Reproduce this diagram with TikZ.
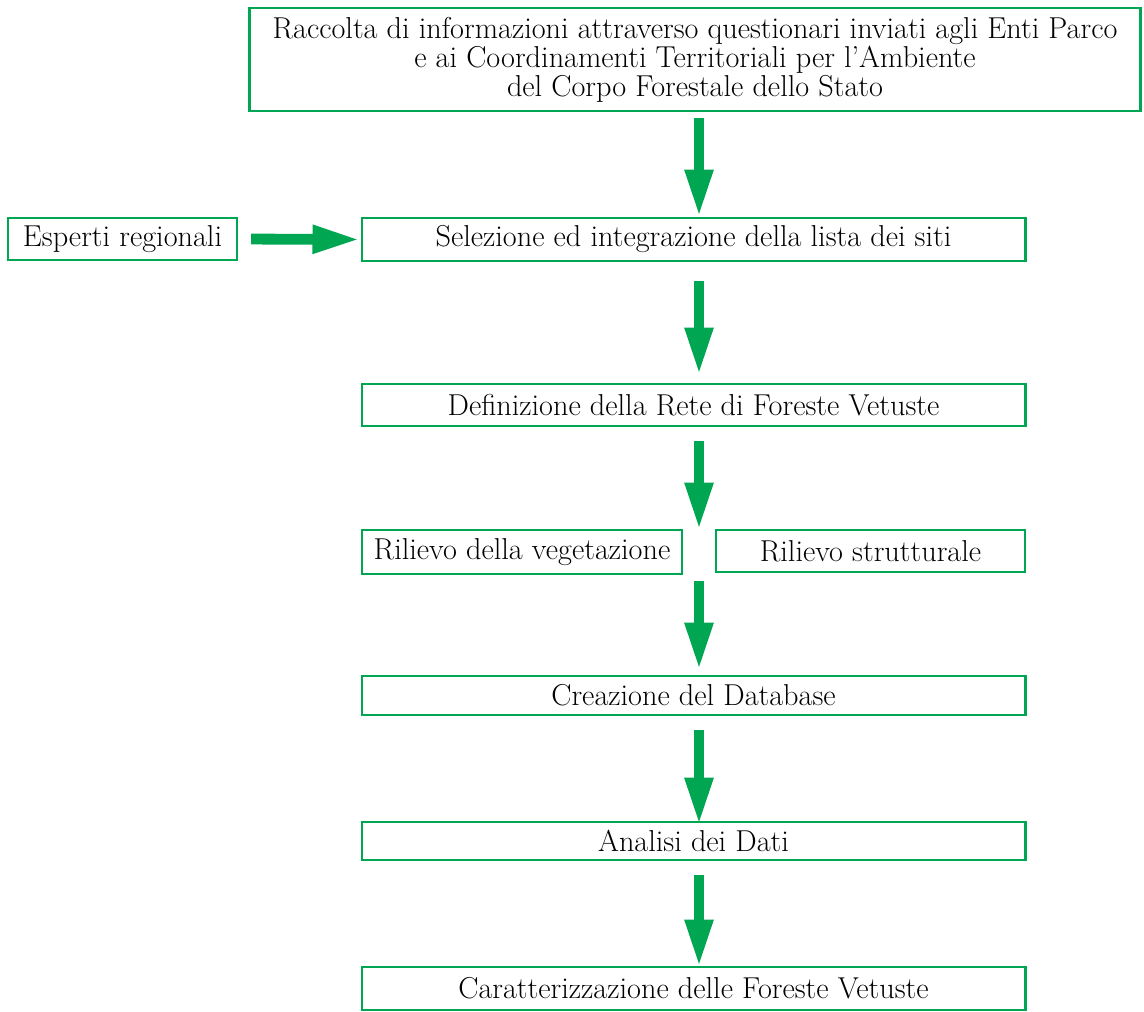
\documentclass[tikz,border=0pt]{standalone}
\usetikzlibrary{arrows.meta}
\definecolor{boxgreen}{RGB}{0,166,81}

\begin{document}
\begin{tikzpicture}[x=0.025cm, y=-0.025cm,
  box/.style={draw=boxgreen, line width=2pt, inner sep=0pt, align=center,
    font=\fontsize{21.5}{20.6}\selectfont},
  flow/.style={boxgreen, line width=0.27cm, -{Triangle[width=0.65cm,length=1.2cm]}}]
\useasboundingbox (0,0) rectangle (1144,1012);
\coordinate (ax) at (699,0);
% boxes
\node[box, minimum width=22.25cm, minimum height=2.575cm] (info) at (695,59.5)
  {Raccolta di informazioni attraverso questionari inviati agli Enti Parco\\
   e ai Coordinamenti Territoriali per l'Ambiente\\
   del Corpo Forestale dello Stato};
\node[box, minimum width=5.725cm, minimum height=1.05cm] (esperti) at (122.5,239) {Esperti regionali};
\node[box, minimum width=16.575cm, minimum height=1.075cm] (sel) at (693.5,239.5) {Selezione ed integrazione della lista dei siti};
\node[box, minimum width=16.575cm, minimum height=1.05cm] (rete) at (693.5,405) {Definizione della Rete di Foreste Vetuste};
\node[box, minimum width=8cm, minimum height=1.1cm] (veg) at (522,552) {Rilievo della vegetazione};
\node[box, minimum width=7.725cm, minimum height=1.05cm] (strut) at (870.5,551) {Rilievo strutturale};
\node[box, minimum width=16.575cm, minimum height=0.975cm] (db) at (693.5,695.5) {Creazione del Database};
\node[box, minimum width=16.575cm, minimum height=0.95cm] (dati) at (693.5,841) {Analisi dei Dati};
\node[box, minimum width=16.575cm, minimum height=1.075cm] (car) at (693.5,988.5) {Caratterizzazione delle Foreste Vetuste};
% arrows
\draw[flow, shorten <=9pt, shorten >=0pt] (esperti.east) -- (sel.west);
\foreach \a/\b/\s/\e in {info/sel/4.3/-0.7, sel/rete/13.5/5, rete/veg/10/-1.4,
                         veg/db/4.3/2.8, db/dati/10/-3.6, dati/car/10/-1.4}
  \draw[flow, shorten <=\s pt, shorten >=\e pt] (\a.south -| ax) -- (\b.north -| ax);
\end{tikzpicture}
\end{document}
